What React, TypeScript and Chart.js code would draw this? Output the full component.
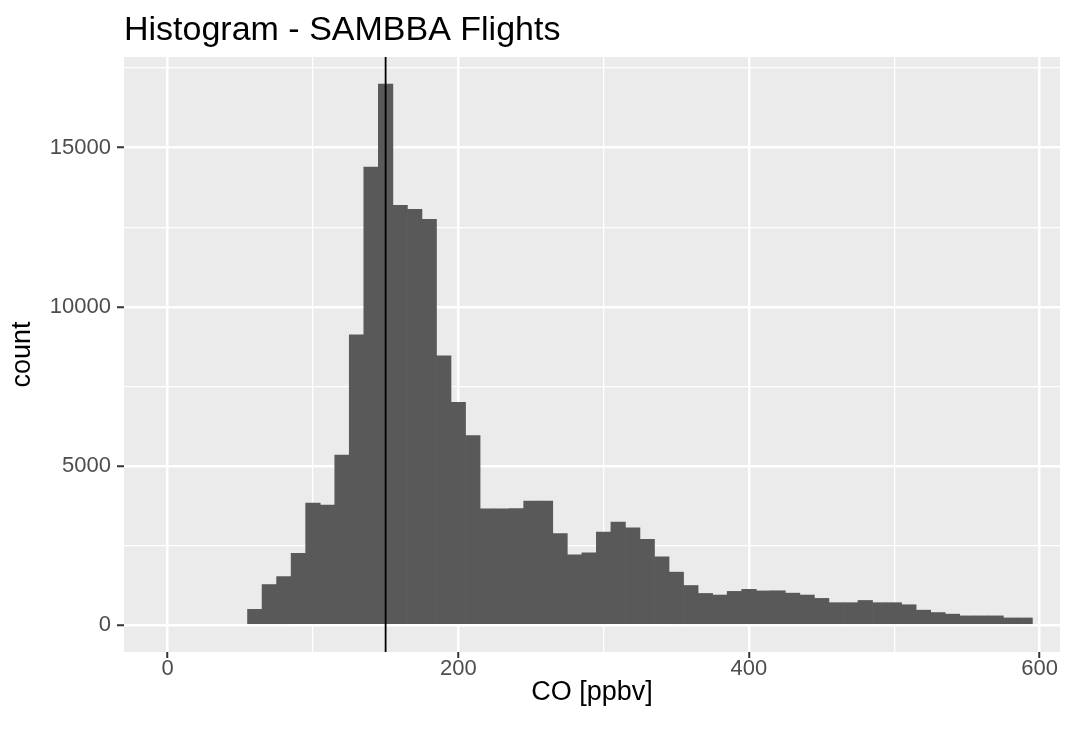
import React, { useEffect, useRef } from 'react';
import { Chart, registerables } from 'chart.js';

Chart.register(...registerables);

const TITLE = 'Histogram - SAMBBA Flights';
const X_TITLE = 'CO [ppbv]';
const Y_TITLE = 'count';

// histogram bin centres (bin width 10 ppbv)
const BIN_CENTERS = [
  60, 70, 80, 90, 100, 110, 120, 130, 140, 150,
  160, 170, 180, 190, 200, 210, 220, 230, 240, 250,
  260, 270, 280, 290, 300, 310, 320, 330, 340, 350,
  360, 370, 380, 390, 400, 410, 420, 430, 440, 450,
  460, 470, 480, 490, 500, 510, 520, 530, 540, 550,
  560, 570, 580, 590,
];

const COUNTS = [
  490, 1270, 1520, 2250, 3830, 3770, 5340, 9120, 14390, 17000,
  13190, 13060, 12750, 8460, 7000, 5950, 3650, 3650, 3660, 3890,
  3890, 2870, 2200, 2270, 2920, 3230, 3050, 2690, 2140, 1660,
  1240, 990, 940, 1055, 1120, 1070, 1075, 1000, 940, 835,
  700, 700, 770, 700, 700, 635, 465, 390, 340, 285,
  285, 285, 220, 220,
];

const X_MAJOR = [0, 200, 400, 600];
const X_MINOR = [100, 300, 500];
const Y_MAJOR = [0, 5000, 10000, 15000];
const Y_MINOR = [2500, 7500, 12500, 17500];
const VLINE_VALUE = 150;

const X_RANGE = [-30, 614];
const Y_RANGE = [-850, 17850];

const FONT = 'Liberation Sans, Arial, Helvetica, sans-serif';

const panelBackground = {
  id: 'panelBackground',
  beforeDraw(chart: any) {
    const { ctx, chartArea } = chart;
    ctx.save();
    ctx.fillStyle = '#EBEBEB';
    ctx.fillRect(chartArea.left, chartArea.top, chartArea.right - chartArea.left, chartArea.bottom - chartArea.top);
    ctx.restore();
  },
};

const vLine = {
  id: 'vLine',
  afterDatasetsDraw(chart: any) {
    const { ctx, chartArea, scales } = chart;
    const x = scales.x.getPixelForValue(VLINE_VALUE);
    ctx.save();
    ctx.strokeStyle = '#000000';
    ctx.lineWidth = 1.8;
    ctx.beginPath();
    ctx.moveTo(x, chartArea.top);
    ctx.lineTo(x, chartArea.bottom);
    ctx.stroke();
    ctx.restore();
  },
};

export default function App() {
  const canvasRef = useRef<HTMLCanvasElement | null>(null);

  useEffect(() => {
    document.body.style.margin = '0';
    const canvas = canvasRef.current;
    if (!canvas) return;

    const xTicks = [...X_MAJOR, ...X_MINOR].sort((a, b) => a - b);
    const yTicks = [...Y_MAJOR, ...Y_MINOR].sort((a, b) => a - b);

    const chart = new Chart(canvas, {
      type: 'bar',
      data: {
        datasets: [
          {
            data: BIN_CENTERS.map((c, i) => ({ x: c, y: COUNTS[i] })),
            backgroundColor: '#595959',
            borderWidth: 0,
            barPercentage: 1,
            categoryPercentage: 1,
          },
        ],
      },
      options: {
        animation: false,
        responsive: false,
        events: [],
        layout: { padding: { left: 0, right: 17, top: 0, bottom: 0 } },
        plugins: {
          legend: { display: false },
          tooltip: { enabled: false },
          title: {
            display: true,
            text: TITLE,
            align: 'start',
            fullSize: false,
            color: '#000000',
            font: { family: FONT, size: 34, weight: 'normal' },
            padding: { top: 10, bottom: 6.2 },
          },
        },
        scales: {
          x: {
            type: 'linear',
            min: X_RANGE[0],
            max: X_RANGE[1],
            offset: false,
            afterFit: (scale: any) => {
              scale.height = 78;
            },
            afterBuildTicks: (scale: any) => {
              scale.ticks = xTicks.map((v) => ({ value: v }));
            },
            border: { display: false },
            grid: {
              offset: false,
              drawOnChartArea: true,
              drawTicks: true,
              tickLength: 6,
              color: '#FFFFFF',
              lineWidth: (ctx: any) => (X_MAJOR.includes(ctx.tick?.value) ? 2.5 : 1.3),
              tickColor: (ctx: any) => (X_MAJOR.includes(ctx.tick?.value) ? '#333333' : 'rgba(0,0,0,0)'),
              tickWidth: 2,
            },
            ticks: {
              autoSkip: false,
              maxRotation: 0,
              padding: -2,
              color: '#4D4D4D',
              font: { family: FONT, size: 22 },
              callback: (v: any) => (X_MAJOR.includes(Number(v)) ? String(v) : ''),
            },
            title: {
              display: true,
              text: X_TITLE,
              color: '#000000',
              font: { family: FONT, size: 27 },
              padding: { top: 0, bottom: 21 },
            },
          },
          y: {
            type: 'linear',
            min: Y_RANGE[0],
            max: Y_RANGE[1],
            afterFit: (scale: any) => {
              scale.width = 124;
            },
            afterBuildTicks: (scale: any) => {
              scale.ticks = yTicks.map((v) => ({ value: v }));
            },
            border: { display: false },
            grid: {
              drawOnChartArea: true,
              drawTicks: true,
              tickLength: 7,
              color: '#FFFFFF',
              lineWidth: (ctx: any) => (Y_MAJOR.includes(ctx.tick?.value) ? 2.5 : 1.3),
              tickColor: (ctx: any) => (Y_MAJOR.includes(ctx.tick?.value) ? '#333333' : 'rgba(0,0,0,0)'),
              tickWidth: 2,
            },
            ticks: {
              autoSkip: false,
              padding: 6,
              color: '#4D4D4D',
              font: { family: FONT, size: 22 },
              callback: (v: any) => (Y_MAJOR.includes(Number(v)) ? String(v) : ''),
            },
            title: {
              display: true,
              text: Y_TITLE,
              color: '#000000',
              font: { family: FONT, size: 27 },
              padding: { top: 6, bottom: 0 },
            },
          },
        },
      },
      plugins: [panelBackground, vLine],
    } as any);

    return () => {
      chart.destroy();
    };
  }, []);

  return (
    <div style={{ position: 'absolute', left: 0, top: 0, width: 1077, height: 730 }}>
      <canvas ref={canvasRef} width={1077} height={730} style={{ display: 'block' }} />
    </div>
  );
}
